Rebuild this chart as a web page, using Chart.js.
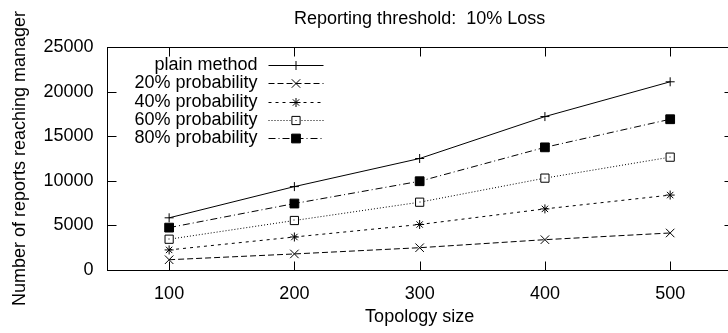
<!DOCTYPE html>
<html>
<head>
<meta charset="utf-8">
<script src="https://cdn.jsdelivr.net/npm/chart.js@4"></script>
<style>
  html, body { margin: 0; padding: 0; background: #fff; overflow: hidden; }
  canvas { display: block; }
</style>
</head>
<body>
<canvas id="reportsChart" width="740" height="333"></canvas>
<script>
// values
const topologySizes = [100, 200, 300, 400, 500];
const plainMethod = [5850, 9350, 12500, 17200, 21100];
const prob20 = [1150, 1800, 2500, 3400, 4150];
const prob40 = [2250, 3700, 5100, 6850, 8400];
const prob60 = [3450, 5550, 7600, 10300, 12650];
const prob80 = [4750, 7450, 9950, 13750, 16900];
const seriesNames = ['plain method', '20% probability', '40% probability', '60% probability', '80% probability'];
const xTicks = [100, 200, 300, 400, 500];
const yTicks = [0, 5000, 10000, 15000, 20000, 25000];
const chartTitle = 'Reporting threshold:  10% Loss';

const FONT = '"Liberation Sans", Arial, Helvetica, sans-serif';
Chart.defaults.font.family = FONT;
Chart.defaults.font.size = 18;
Chart.defaults.color = '#000';

function makeSet(label, values, style, radius, dash, fill) {
  return {
    label: label,
    data: topologySizes.map((x, i) => ({ x: x, y: values[i] })),
    borderColor: '#000',
    borderWidth: 1,
    borderDash: dash,
    pointStyle: style,
    pointRadius: radius,
    pointBorderColor: '#000',
    pointBackgroundColor: fill,
    pointBorderWidth: 1,
    tension: 0,
    fill: false
  };
}

const datasets = [
  makeSet(seriesNames[0], plainMethod, 'cross', 4.5, [], '#000'),
  makeSet(seriesNames[1], prob20, 'crossRot', 6, [6, 3], '#000'),
  makeSet(seriesNames[2], prob40, 'star', 4.5, [3, 4], '#000'),
  makeSet(seriesNames[3], prob60, 'rect', 5.8, [1, 2], '#fff'),
  makeSet(seriesNames[4], prob80, 'rect', 6.2, [7, 3, 1, 3], '#000')
];

// gnuplot style frame with inward ticks on every side
const frame = {
  id: 'frame',
  beforeDatasetsDraw(chart) {
    const ctx = chart.ctx;
    const a = chart.chartArea;
    const L = Math.round(a.left) + 0.5, R = Math.round(a.right) + 0.5;
    const T = Math.round(a.top) + 0.5, B = Math.round(a.bottom) + 0.5;
    const len = 9;
    ctx.save();
    ctx.strokeStyle = '#000';
    ctx.lineWidth = 1;
    ctx.strokeRect(L, T, R - L, B - T);
    ctx.beginPath();
    chart.scales.x.ticks.forEach(t => {
      const px = Math.round(chart.scales.x.getPixelForValue(t.value)) + 0.5;
      ctx.moveTo(px, B); ctx.lineTo(px, B - len);
      ctx.moveTo(px, T); ctx.lineTo(px, T + len);
    });
    chart.scales.y.ticks.forEach(t => {
      const py = Math.round(chart.scales.y.getPixelForValue(t.value)) + 0.5;
      ctx.moveTo(L, py); ctx.lineTo(L + len, py);
      ctx.moveTo(R, py); ctx.lineTo(R - len, py);
    });
    ctx.stroke();
    ctx.restore();
  }
};

// key in the top left corner: text right aligned, sample to its right
const key = {
  id: 'key',
  afterDatasetsDraw(chart) {
    const ctx = chart.ctx;
    const a = chart.chartArea;
    const textRight = a.left + 151;
    const lineFrom = a.left + 162, lineTo = a.left + 217;
    const mid = (lineFrom + lineTo) / 2;
    chart.data.datasets.forEach((ds, i) => {
      const y = a.top + 18 + i * 18.3;
      ctx.save();
      ctx.fillStyle = '#000';
      ctx.font = '18px ' + FONT;
      ctx.textAlign = 'right';
      ctx.textBaseline = 'middle';
      ctx.fillText(ds.label, textRight, y);
      ctx.strokeStyle = '#000';
      ctx.lineWidth = 1;
      ctx.setLineDash(ds.borderDash);
      ctx.beginPath();
      ctx.moveTo(lineFrom, Math.round(y) + 0.5);
      ctx.lineTo(lineTo, Math.round(y) + 0.5);
      ctx.stroke();
      ctx.setLineDash([]);
      ctx.fillStyle = ds.pointBackgroundColor;
      Chart.helpers.drawPoint(ctx, { pointStyle: ds.pointStyle, radius: ds.pointRadius, borderWidth: 1, rotation: 0 }, mid, Math.round(y) + 0.5);
      if (i === 3) { ctx.fillStyle = '#000'; ctx.fillRect(Math.round(mid) - 0.5, Math.round(y), 1, 1); }
      ctx.restore();
    });
    // centre dot of the open squares
    const meta = chart.getDatasetMeta(3);
    ctx.save();
    ctx.fillStyle = '#000';
    meta.data.forEach(p => ctx.fillRect(Math.round(p.x) - 0.5, Math.round(p.y) - 0.5, 1, 1));
    ctx.restore();
  }
};

const topTitle = {
  id: 'topTitle',
  afterDraw(chart) {
    const ctx = chart.ctx;
    const a = chart.chartArea;
    ctx.save();
    ctx.fillStyle = '#000';
    ctx.font = '18px ' + FONT;
    ctx.textAlign = 'center';
    ctx.textBaseline = 'middle';
    ctx.fillText(chartTitle, (a.left + a.right) / 2, 19);
    ctx.restore();
  }
};

new Chart(document.getElementById('reportsChart'), {
  type: 'line',
  data: { datasets: datasets },
  options: {
    responsive: false,
    devicePixelRatio: 1,
    animation: false,
    layout: { padding: { top: 47, right: 4, left: 0, bottom: 0 } },
    plugins: { legend: { display: false }, tooltip: { enabled: false }, title: { display: false } },
    scales: {
      x: {
        type: 'linear',
        min: 50,
        max: 550,
        afterBuildTicks: s => { s.ticks = xTicks.map(v => ({ value: v })); },
        afterFit: s => { s.height = 63; },
        grid: { display: false, drawTicks: false },
        border: { display: false },
        ticks: { padding: 13, maxRotation: 0, color: '#000' },
        title: { display: true, text: 'Topology size', color: '#000', padding: { top: 0, bottom: 5 } }
      },
      y: {
        min: 0,
        max: 25000,
        afterBuildTicks: s => { s.ticks = yTicks.map(v => ({ value: v })); },
        afterFit: s => { s.width = 106.5; },
        grid: { display: false, drawTicks: false },
        border: { display: false },
        ticks: { padding: 13, color: '#000', callback: v => String(v) },
        title: { display: true, text: 'Number of reports reaching manager', color: '#000', padding: { top: 9, bottom: 0 } }
      }
    }
  },
  plugins: [frame, key, topTitle]
});
</script>
</body>
</html>
